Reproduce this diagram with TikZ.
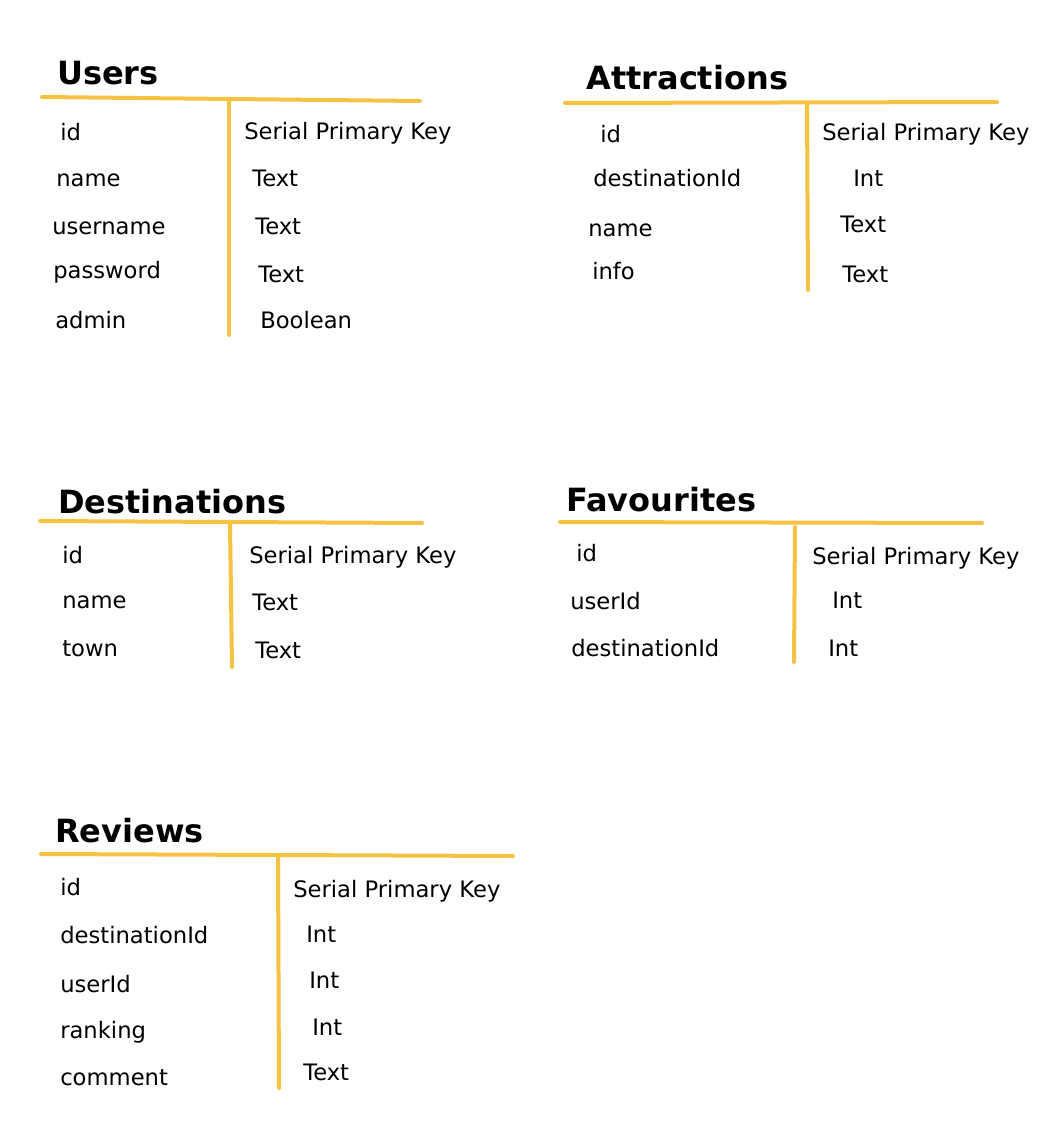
\documentclass[tikz,border=0pt]{standalone}
\usepackage{fontspec}
\setmainfont{DejaVu Sans}
\definecolor{tabline}{HTML}{F5C244}
\begin{document}
\begin{tikzpicture}[x=0.75pt,y=-0.75pt,
  title/.style={anchor=base west,inner sep=0pt,font=\fontsize{24}{28}\selectfont\bfseries},
  cell/.style={anchor=base west,inner sep=0pt,font=\fontsize{17}{20}\selectfont},
  rule/.style={draw=tabline,line width=3pt,line cap=round}]
\useasboundingbox (0,0) rectangle (1055,1137);
% ---------- Users ----------
\node[title] (ut) at (57,85) {Users};
\draw[rule] (42,97) -- (420,101);
\draw[rule] (229,101) -- (229,335);
\node[cell] (u1) at (60,141) {id};
\node[cell] (u2) at (56,187) {name};
\node[cell] (u3) at (52,235) {username};
\node[cell] (u4) at (53,279) {password};
\node[cell] (u5) at (55,328) {admin};
\node[cell] (u1t) at (244,140) {Serial Primary Key};
\node[cell] (u2t) at (252,187) {Text};
\node[cell] (u3t) at (255,235) {Text};
\node[cell] (u4t) at (258,282) {Text};
\node[cell] (u5t) at (260,328) {Boolean};
% ---------- Attractions ----------
\node[title] (at) at (586,90) {Attractions};
\draw[rule] (565,103) -- (997,102);
\draw[rule] (807,104) -- (808,290);
\node[cell] (a1) at (600,143) {id};
\node[cell] (a2) at (593,187) {destinationId};
\node[cell] (a3) at (588,237) {name};
\node[cell] (a4) at (592,280) {info};
\node[cell] (a1t) at (822,141) {Serial Primary Key};
\node[cell] (a2t) at (853,187) {Int};
\node[cell] (a3t) at (840,233) {Text};
\node[cell] (a4t) at (842,282) {Text};
% ---------- Destinations ----------
\node[title] (dt) at (58,513) {Destinations};
\draw[rule] (40,521) -- (422,523);
\draw[rule] (230,524) -- (232,667);
\node[cell] (d1) at (62,563) {id};
\node[cell] (d2) at (62,608) {name};
\node[cell] (d3) at (62,656) {town};
\node[cell] (d1t) at (249,563) {Serial Primary Key};
\node[cell] (d2t) at (252,610) {Text};
\node[cell] (d3t) at (255,658) {Text};
% ---------- Favourites ----------
\node[title] (ft) at (566,511) {Favourites};
\draw[rule] (560,522) -- (982,523);
\draw[rule] (795,527) -- (794,662);
\node[cell] (f1) at (576,561) {id};
\node[cell] (f2) at (570,609) {userId};
\node[cell] (f3) at (571,656) {destinationId};
\node[cell] (f1t) at (812,564) {Serial Primary Key};
\node[cell] (f2t) at (832,608) {Int};
\node[cell] (f3t) at (828,656) {Int};
% ---------- Reviews ----------
\node[title] (rt) at (55,842) {Reviews};
\draw[rule] (41,854) -- (513,856);
\draw[rule] (278,857) -- (279,1088);
\node[cell] (r1) at (60,895) {id};
\node[cell] (r2) at (60,943) {destinationId};
\node[cell] (r3) at (60,992) {userId};
\node[cell] (r4) at (60,1038) {ranking};
\node[cell] (r5) at (60,1085) {comment};
\node[cell] (r1t) at (293,897) {Serial Primary Key};
\node[cell] (r2t) at (306,942) {Int};
\node[cell] (r3t) at (309,988) {Int};
\node[cell] (r4t) at (312,1035) {Int};
\node[cell] (r5t) at (303,1080) {Text};
\end{tikzpicture}
\end{document}
